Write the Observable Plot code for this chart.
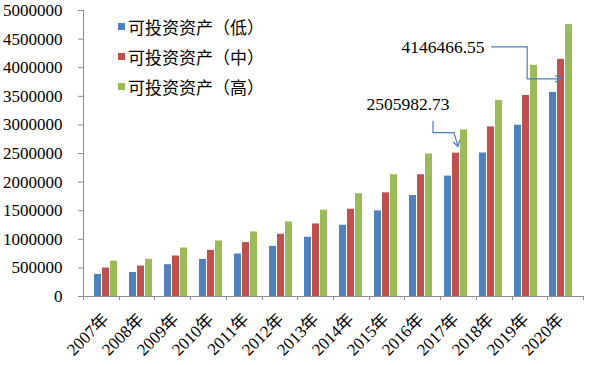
<!DOCTYPE html>
<html><head><meta charset="utf-8">
<script src="https://cdn.jsdelivr.net/npm/d3@7"></script>
<script src="https://cdn.jsdelivr.net/npm/@observablehq/plot@0.6"></script>
<style>
body{margin:0;background:#fff;}
#wrap{position:relative;width:590px;height:365px;}
.legend{position:absolute;left:118px;top:11px;font-family:"Liberation Serif","Noto Sans CJK SC",serif;font-size:17px;color:#000;}
.legend .row{display:flex;align-items:center;height:30px;}
.legend .sw{width:7px;height:7px;margin-right:3px;display:inline-block;}
</style></head><body><div id="wrap"></div>
<script>
const years = ["2007年","2008年","2009年","2010年","2011年","2012年","2013年","2014年","2015年","2016年","2017年","2018年","2019年","2020年"];
const seriesNames = ["可投资资产（低）","可投资资产（中）","可投资资产（高）"];
const low  = [386000, 421000, 556000, 649000, 743000, 877000, 1035000, 1246000, 1497000, 1766000, 2105000, 2509000, 2994000, 3567000];
const mid  = [497000, 532000, 708000, 807000, 942000, 1088000, 1269000, 1526000, 1813000, 2129000, 2505982.73, 2965000, 3514000, 4146466.55];
const high = [619000, 649000, 848000, 971000, 1128000, 1304000, 1509000, 1795000, 2129000, 2491000, 2912000, 3426000, 4041000, 4754000];
const colors = ["#4F81BD","#C0504D","#9BBB59"];
const annotations = [
  {year:"2017年", value:2505982.73, label:"2505982.73"},
  {year:"2020年", value:4146466.55, label:"4146466.55"}
];

const FONT = '"Liberation Serif","Noto Sans CJK SC",serif';
const mk = arr => years.map((y,i)=>({year:y, v:arr[i]}));

const chart = Plot.plot({
  width:590, height:365,
  marginLeft:83, marginRight:7, marginTop:10, marginBottom:69,
  style:{fontFamily:FONT, fontSize:"17px", color:"#000", background:"#fff", overflow:"visible"},
  x:{domain:years, paddingInner:0.33, paddingOuter:0.165, label:null, tickSize:0, tickRotate:-45, tickPadding:20},
  y:{domain:[0,5000000], ticks:10, tickFormat:d3.format("d"), label:null, tickSize:5, tickPadding:16, line:true},
  marks:[
    Plot.barY(mk(low),  {x:"year", y:"v", fill:colors[0], insetRight:16}),
    Plot.barY(mk(mid),  {x:"year", y:"v", fill:colors[1], insetLeft:8, insetRight:8}),
    Plot.barY(mk(high), {x:"year", y:"v", fill:colors[2], insetLeft:16}),
    Plot.ruleY([0], {stroke:"#8c8c8c"}),
    Plot.text([annotations[0]], {x:"year", y:"value", text:"label", dx:-48, dy:-49, fontSize:17.5}),
    Plot.text([annotations[1]], {x:"year", y:"value", text:"label", dx:-118, dy:-12, fontSize:17.5})
  ]
});

const wrap = document.getElementById("wrap");
wrap.appendChild(chart);
const svg = chart.tagName.toLowerCase()==="svg" ? chart : chart.querySelector("svg");

// gray axis strokes
svg.querySelectorAll('[aria-label^="y-axis"] line, [aria-label^="y-axis"] path').forEach(e=>e.setAttribute("stroke","#8c8c8c"));

// scales
const xs = chart.scale("x"), ys = chart.scale("y");
const xb = d3.scaleBand().domain(xs.domain).range(xs.range).paddingInner(xs.paddingInner ?? 0.33).paddingOuter(xs.paddingOuter ?? 0.165).align(xs.align ?? 0.5);
const yl = d3.scaleLinear().domain(ys.domain).range(ys.range);
const g = d3.select(svg).append("g");

// y axis line
const x0 = xs.range[0];
const y0 = yl(0);
g.append("line").attr("x1",x0+0.5).attr("x2",x0+0.5).attr("y1",yl(ys.domain[1])).attr("y2",y0).attr("stroke","#8c8c8c");

// x-axis ticks at category boundaries
const step = xb.step();
years.concat([null]).forEach((_,i)=>{
  const xx = Math.round(x0 + i*step) + 0.5;
  g.append("line").attr("x1",xx).attr("x2",xx).attr("y1",y0).attr("y2",y0+4).attr("stroke","#8c8c8c");
});

// annotation connectors
const arrowColor = "#4a7ebb";
function arrowHead(tip, from){
  const ang = Math.atan2(tip[1]-from[1], tip[0]-from[0]);
  const L = 7, a = Math.PI/6;
  const p1 = [tip[0]-L*Math.cos(ang-a), tip[1]-L*Math.sin(ang-a)];
  const p2 = [tip[0]-L*Math.cos(ang+a), tip[1]-L*Math.sin(ang+a)];
  return `M${p1}L${tip}L${p2}`;
}
const paths = [
  [[-25,-32],[-25,-20],[-4,-20],[0,-6]],
  [[-74,-12],[-38,-12],[-38,20],[-4,20]]
];
annotations.forEach((a,k)=>{
  const cx = xb(a.year) + xb.bandwidth()/2;
  const cy = yl(a.value);
  const pts = paths[k].map(p=>[cx+p[0], cy+p[1]]);
  g.append("path").attr("d", d3.line()(pts)).attr("fill","none").attr("stroke",arrowColor).attr("stroke-width",1.2);
  g.append("path").attr("d", arrowHead(pts[pts.length-1], pts[pts.length-2])).attr("fill","none").attr("stroke",arrowColor).attr("stroke-width",1.2);
});

// legend overlay
const leg = document.createElement("div");
leg.className = "legend";
seriesNames.forEach((n,i)=>{
  const r = document.createElement("div"); r.className="row";
  const s = document.createElement("span"); s.className="sw"; s.style.background=colors[i];
  const t = document.createElement("span"); t.textContent=n;
  r.appendChild(s); r.appendChild(t); leg.appendChild(r);
});
wrap.appendChild(leg);
</script></body></html>
